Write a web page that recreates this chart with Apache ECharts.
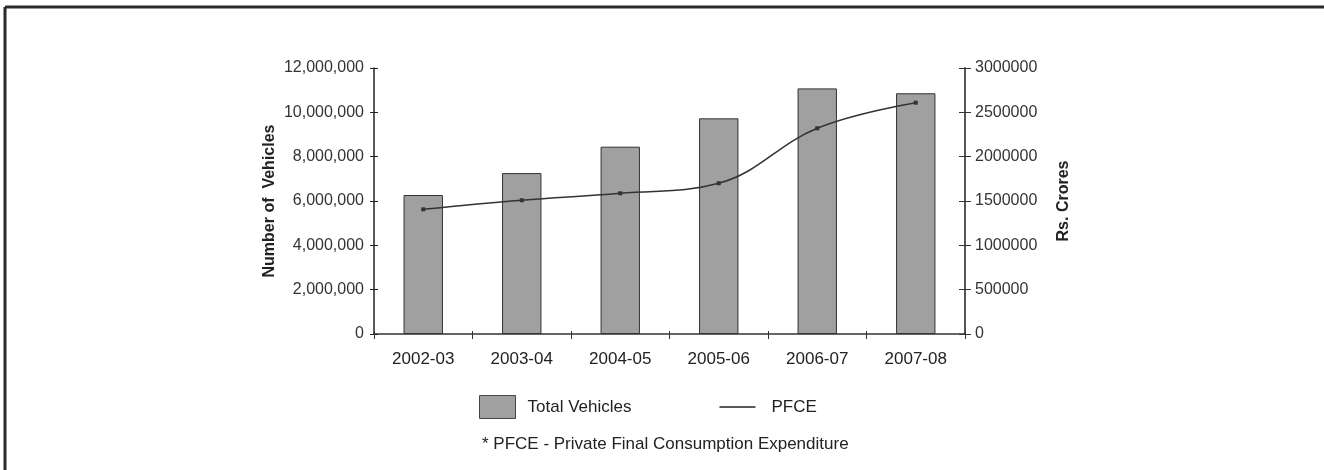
<!DOCTYPE html>
<html>
<head>
<meta charset="utf-8">
<script src="https://cdn.jsdelivr.net/npm/echarts@6/dist/echarts.min.js"></script>
<style>
  html, body { margin: 0; padding: 0; background: #fff; }
  #chart { width: 1324px; height: 470px; }
</style>
</head>
<body>
<div id="chart"></div>
<script>
  // data
  var years = ['2002-03', '2003-04', '2004-05', '2005-06', '2006-07', '2007-08'];
  var totalVehicles = [6270000, 7260000, 8450000, 9730000, 11080000, 10860000];
  var pfce = [1406000, 1508000, 1587000, 1700000, 2320000, 2609000];
  var footnote = '* PFCE - Private Final Consumption Expenditure';

  var font = '"Liberation Sans", Arial, sans-serif';

  function commas(v) {
    return String(v).replace(/\B(?=(\d{3})+(?!\d))/g, ',');
  }

  var chart = echarts.init(document.getElementById('chart'));
  chart.setOption({
    backgroundColor: '#fff',
    animation: false,
    textStyle: { fontFamily: font, color: '#222' },
    grid: { left: 374, right: 359, top: 68, bottom: 136 },
    legend: {
      left: 479,
      top: 395,
      padding: 0,
      itemWidth: 36,
      itemHeight: 23,
      itemGap: 88,
      textStyle: { fontSize: 17, color: '#222', fontFamily: font },
      data: [
        { name: 'Total Vehicles', icon: 'rect',
          itemStyle: { color: '#a0a0a0', borderColor: '#444', borderWidth: 1 },
          textStyle: { padding: [0, 0, 0, 7] } },
        { name: 'PFCE', icon: 'path://M0,0H35V1.5H0Z',
          itemStyle: { color: '#222' },
          textStyle: { padding: [0, 0, 0, 11] } }
      ]
    },
    xAxis: [{
      type: 'category',
      data: years,
      axisLine: { lineStyle: { color: '#333', width: 1.5 } },
      axisTick: { show: true, length: 5, lineStyle: { color: '#333' } },
      axisLabel: { fontSize: 17, color: '#222', margin: 17 }
    }, {
      type: 'category',
      data: years,
      position: 'bottom',
      axisLine: { show: false },
      axisTick: { show: true, inside: true, length: 3, lineStyle: { color: '#333' } },
      axisLabel: { show: false }
    }],
    yAxis: [{
      type: 'value',
      min: 0, max: 12000000, interval: 2000000,
      name: 'Number of  Vehicles',
      nameLocation: 'middle',
      nameGap: 96,
      nameTextStyle: { fontSize: 16, fontWeight: 'bold', color: '#222' },
      axisLine: { show: true, lineStyle: { color: '#222', width: 1.5 } },
      axisTick: { show: true, length: 4, lineStyle: { color: '#222' } },
      axisLabel: { fontSize: 16, color: '#333', margin: 10, formatter: commas },
      splitLine: { show: false }
    }, {
      type: 'value',
      position: 'right',
      min: 0, max: 3000000, interval: 500000,
      name: 'Rs. Crores',
      nameLocation: 'middle',
      nameGap: 91,
      nameTextStyle: { fontSize: 16, fontWeight: 'bold', color: '#222' },
      axisLine: { show: true, lineStyle: { color: '#555', width: 2 } },
      axisTick: { show: true, length: 6, lineStyle: { color: '#333' } },
      axisLabel: { fontSize: 16, color: '#333', margin: 10, formatter: function (v) { return String(v); } },
      splitLine: { show: false }
    }, {
      type: 'value',
      position: 'left',
      min: 0, max: 12000000, interval: 2000000,
      axisLine: { show: false },
      axisTick: { show: true, inside: true, length: 4, lineStyle: { color: '#222' } },
      axisLabel: { show: false },
      splitLine: { show: false }
    }, {
      type: 'value',
      position: 'right',
      min: 0, max: 3000000, interval: 500000,
      axisLine: { show: false },
      axisTick: { show: true, inside: true, length: 6, lineStyle: { color: '#333' } },
      axisLabel: { show: false },
      splitLine: { show: false }
    }],
    series: [{
      name: 'Total Vehicles',
      type: 'bar',
      data: totalVehicles,
      yAxisIndex: 0,
      barWidth: '40%',
      itemStyle: { color: '#a0a0a0', borderColor: '#333', borderWidth: 1 }
    }, {
      name: 'PFCE',
      type: 'line',
      data: pfce,
      yAxisIndex: 1,
      smooth: 0.4,
      symbol: 'rect',
      symbolSize: 4,
      lineStyle: { color: '#333', width: 1.5 },
      itemStyle: { color: '#333' }
    }],
    graphic: [{
      type: 'text',
      left: 482,
      top: 436,
      style: { text: footnote, fontSize: 17, fill: '#222', fontFamily: font }
    }, {
      type: 'line',
      shape: { x1: 5, y1: 7, x2: 1324, y2: 7 },
      style: { stroke: '#2a2a2a', lineWidth: 3 }
    }, {
      type: 'line',
      shape: { x1: 5, y1: 7, x2: 5, y2: 470 },
      style: { stroke: '#2a2a2a', lineWidth: 3 }
    }]
  });
</script>
</body>
</html>
